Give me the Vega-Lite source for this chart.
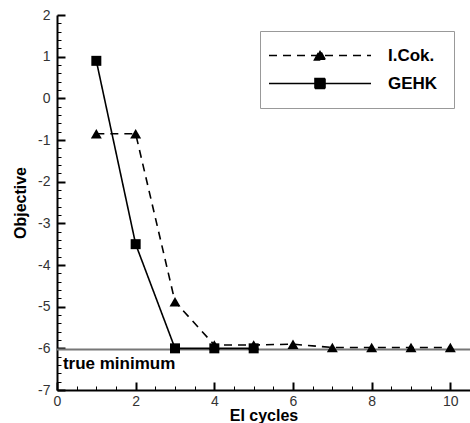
{
  "$schema": "https://vega.github.io/schema/vega-lite/v6.json",
  "width": 413,
  "height": 375,
  "autosize": {"type": "none"},
  "padding": {"left": 57, "top": 15, "right": 0, "bottom": 33},
  "background": "white",
  "resolve": {"axis": {"x": "independent", "y": "independent"}},
  "config": {
    "view": {"stroke": null},
    "font": "Liberation Sans",
    "axis": {
      "domainColor": "black",
      "domainWidth": 2,
      "ticks": true,
      "tickColor": "black",
      "tickOpacity": 1,
      "labelFont": "Liberation Sans",
      "labelFontSize": 14,
      "labelColor": "#333",
      "labelOverlap": false,
      "titleFont": "Liberation Sans",
      "titleFontSize": 16,
      "titleFontWeight": "bold",
      "titleColor": "black",
      "grid": false
    }
  },
  "datasets": {
    "runs": [
      {"series": "I.Cok.", "cycle": 1, "objective": -0.85},
      {"series": "I.Cok.", "cycle": 2, "objective": -0.85},
      {"series": "I.Cok.", "cycle": 3, "objective": -4.88},
      {"series": "I.Cok.", "cycle": 4, "objective": -5.92},
      {"series": "I.Cok.", "cycle": 5, "objective": -5.92},
      {"series": "I.Cok.", "cycle": 6, "objective": -5.9},
      {"series": "I.Cok.", "cycle": 7, "objective": -5.98},
      {"series": "I.Cok.", "cycle": 8, "objective": -5.98},
      {"series": "I.Cok.", "cycle": 9, "objective": -5.98},
      {"series": "I.Cok.", "cycle": 10, "objective": -5.98},
      {"series": "GEHK", "cycle": 1, "objective": 0.9},
      {"series": "GEHK", "cycle": 2, "objective": -3.5},
      {"series": "GEHK", "cycle": 3, "objective": -6.0},
      {"series": "GEHK", "cycle": 4, "objective": -6.0},
      {"series": "GEHK", "cycle": 5, "objective": -6.0}
    ],
    "minimum": [
      {"level": -6.03, "labelY": -6.5, "labelX": 0.15, "label": "true minimum"}
    ]
  },
  "layer": [
    {
      "data": {"name": "minimum"},
      "mark": {"type": "rule", "color": "#777", "strokeWidth": 2},
      "encoding": {
        "y": {"field": "level", "type": "quantitative", "scale": {"domain": [-7, 2]}, "axis": null}
      }
    },
    {
      "data": {"name": "minimum"},
      "mark": {"type": "text", "align": "left", "baseline": "alphabetic", "font": "Liberation Sans", "fontSize": 17, "fontWeight": "bold", "color": "black"},
      "encoding": {
        "x": {"field": "labelX", "type": "quantitative", "axis": null},
        "y": {"field": "labelY", "type": "quantitative", "axis": null},
        "text": {"field": "label"}
      }
    },
    {
      "data": {"name": "runs"},
      "mark": {"type": "line", "color": "black", "strokeWidth": 1.6},
      "encoding": {
        "x": {
          "field": "cycle", "type": "quantitative",
          "scale": {"domain": [0, 10.5], "nice": false},
          "axis": {
            "orient": "bottom",
            "title": "EI cycles",
            "values": [0, 2, 4, 6, 8, 10],
            "ticks": false,
            "tickSize": 0,
            "labelFlush": false,
            "labelPadding": 4,
            "titleY": 17
          }
        },
        "y": {
          "field": "objective", "type": "quantitative",
          "scale": {"domain": [-7, 2], "nice": false},
          "axis": {
            "orient": "left",
            "title": "Objective",
            "values": [-7, -6, -5, -4, -3, -2, -1, 0, 1, 2],
            "labelExpr": "replace(datum.label, '\u2212', '-')",
            "ticks": false,
            "tickSize": 0,
            "labelFlush": false,
            "labelPadding": 7,
            "titleX": -29
          }
        },
        "strokeDash": {
          "field": "series", "type": "nominal",
          "scale": {"domain": ["I.Cok.", "GEHK"], "range": [[8, 6], [1, 0]]},
          "legend": {
            "title": null,
            "orient": "none",
            "legendX": 203,
            "legendY": 16,
            "padding": 16,
            "rowPadding": 10,
            "strokeColor": "#999",
            "fillColor": "white",
            "symbolSize": 100,
            "symbolOffset": 35.5,
            "labelOffset": 59.5,
            "symbolStrokeWidth": 1.6,
            "symbolStrokeColor": "black",
            "symbolFillColor": "black",
            "labelFont": "Liberation Sans",
            "labelFontSize": 17,
            "labelFontWeight": "bold",
            "labelColor": "black",
            "encode": {
              "symbols": {
                "update": {
                  "shape": {"signal": "datum.value === 'GEHK' ? 'M-10.2,0H10.2M-1,-1H1V1H-1Z' : 'M-10.2,0H10.2M-1.1,0.9L0,-1.1L1.1,0.9Z'"},
                  "fill": {"value": "black"},
                  "stroke": {"value": "black"}
                }
              }
            }
          }
        }
      }
    },
    {
      "data": {"name": "runs"},
      "transform": [{"filter": "datum.series === 'I.Cok.'"}],
      "mark": {"type": "point", "shape": "triangle-up", "filled": true, "opacity": 1, "color": "black", "size": 120},
      "encoding": {
        "x": {
          "field": "cycle", "type": "quantitative",
          "axis": {"orient": "top", "offset": -375, "values": [0, 2, 4, 6, 8, 10], "labels": false, "domain": false, "title": null, "ticks": true, "tickColor": "black", "tickSize": 8, "tickWidth": 2}
        },
        "y": {
          "field": "objective", "type": "quantitative",
          "axis": {"orient": "right", "offset": -413, "values": [-7, -6, -5, -4, -3, -2, -1, 0, 1, 2], "labels": false, "domain": false, "title": null, "ticks": true, "tickColor": "black", "tickSize": 8, "tickWidth": 2}
        }
      }
    },
    {
      "data": {"name": "runs"},
      "transform": [{"filter": "datum.series === 'GEHK'"}],
      "mark": {"type": "point", "shape": "square", "filled": true, "opacity": 1, "color": "black", "size": 100},
      "encoding": {
        "x": {
          "field": "cycle", "type": "quantitative",
          "axis": {"orient": "top", "offset": -375, "values": [0.5, 1, 1.5, 2.5, 3, 3.5, 4.5, 5, 5.5, 6.5, 7, 7.5, 8.5, 9, 9.5, 10.5], "labels": false, "domain": false, "title": null, "ticks": true, "tickColor": "black", "tickSize": 4, "tickWidth": 1}
        },
        "y": {
          "field": "objective", "type": "quantitative",
          "axis": {"orient": "right", "offset": -413, "values": [-6.8, -6.6, -6.4, -6.2, -5.8, -5.6, -5.4, -5.2, -4.8, -4.6, -4.4, -4.2, -3.8, -3.6, -3.4, -3.2, -2.8, -2.6, -2.4, -2.2, -1.8, -1.6, -1.4, -1.2, -0.8, -0.6, -0.4, -0.2, 0.2, 0.4, 0.6, 0.8, 1.2, 1.4, 1.6, 1.8], "labels": false, "domain": false, "title": null, "ticks": true, "tickColor": "black", "tickSize": 4, "tickWidth": 1}
        }
      }
    }
  ]
}
